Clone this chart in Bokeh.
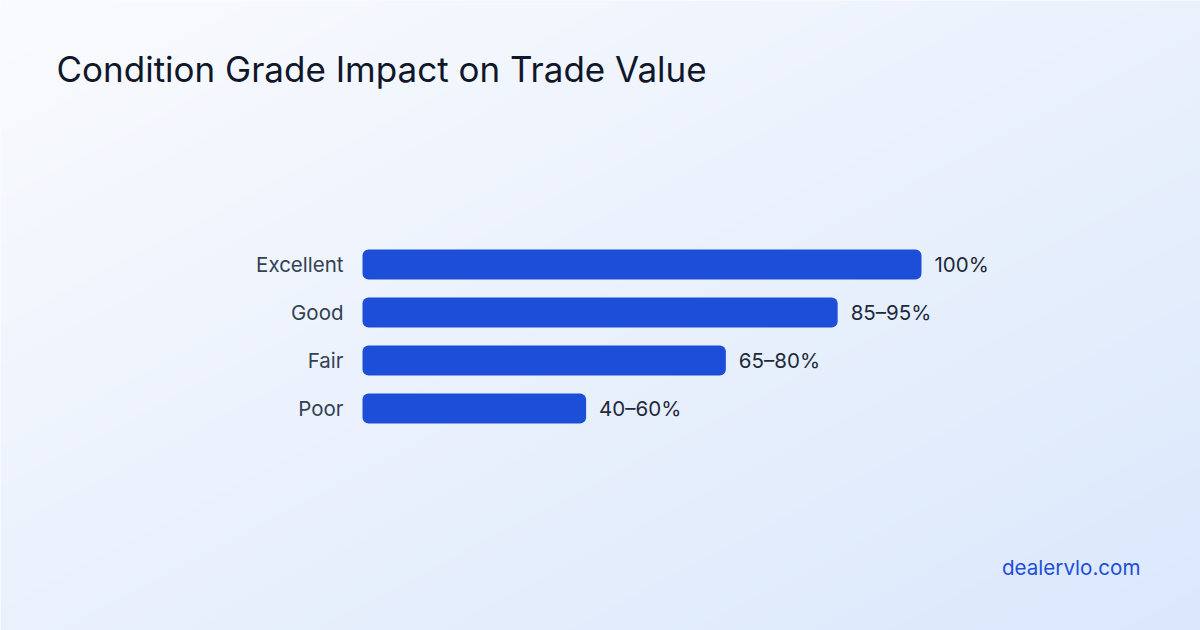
import numpy as np
from bokeh.core.properties import value
from bokeh.embed import file_html
from bokeh.models import ColumnDataSource, Label, Range1d
from bokeh.plotting import figure
from bokeh.resources import INLINE

# data
grades = ["Excellent", "Good", "Fair", "Poor"]
low_pct = [100, 85, 65, 40]          # bar length = bottom of the range
range_labels = ["100%", "85\u201395%", "65\u201380%", "40\u201360%"]

W, H = 1200, 630
PX_PER_PCT = 5.59
X0 = 362                                # pixel where 0% sits
ROW = 48                                # pixel pitch between bars

x_start = -X0 / PX_PER_PCT
x_end = x_start + W / PX_PER_PCT
y_start = -222 / ROW
y_end = y_start + H / ROW

ypos = [len(grades) - 1 - i for i in range(len(grades))]
src = ColumnDataSource(dict(
    grade=grades, low=low_pct, label=range_labels, y=ypos,
    lab_x=[v + 13 / PX_PER_PCT for v in low_pct],
    cat_x=[-19 / PX_PER_PCT] * len(grades),
))

p = figure(width=W, height=H, output_backend="svg", toolbar_location=None,
           x_range=Range1d(x_start, x_end), y_range=Range1d(y_start, y_end),
           min_border=0, tools="")
p.axis.visible = False
p.grid.visible = False
p.outline_line_color = None
p.background_fill_color = "#f8fafc"
p.border_fill_color = "#f8fafc"

# diagonal background gradient, light top-left to pale blue bottom-right
gw, gh = 600, 315
cols = np.linspace(0, 1, gw)[None, :]
rows = np.linspace(0, 1, gh)[:, None]
t = (cols + (1 - rows)) / 2
c0 = np.array([250, 251, 254])
c1 = np.array([219, 232, 252])
rgb = c0[None, None, :] + (c1 - c0)[None, None, :] * t[:, :, None]
img = np.empty((gh, gw), dtype=np.uint32)
view = img.view(dtype=np.uint8).reshape((gh, gw, 4))
view[:, :, 0] = rgb[:, :, 0]
view[:, :, 1] = rgb[:, :, 1]
view[:, :, 2] = rgb[:, :, 2]
view[:, :, 3] = 255
p.image_rgba(image=[img], x=x_start, y=y_start, dw=x_end - x_start, dh=y_end - y_start)

p.hbar(y="y", left=0, right="low", height=30 / ROW, source=src,
       fill_color="#1d4ed8", line_color=None, border_radius=6)

p.text(x="cat_x", y="y", text="grade", source=src, text_align="right",
       text_baseline="middle", text_font=value("Inter"), text_font_size="20.5px",
       text_color="#334155")
p.text(x="lab_x", y="y", text="label", source=src, text_align="left",
       text_baseline="middle", text_font=value("Inter"), text_font_size="20.5px",
       text_color="#1e293b")

p.add_layout(Label(x=56, y=H - 68, x_units="screen", y_units="screen",
                   text="Condition Grade Impact on Trade Value",
                   text_font="Inter", text_font_size="35px", text_color="#0f172a",
                   text_baseline="alphabetic"))
p.add_layout(Label(x=1140, y=H - 567, x_units="screen", y_units="screen",
                   text="dealervlo.com", text_align="right",
                   text_font="Inter", text_font_size="20.6px", text_color="#1d4ed8",
                   text_baseline="alphabetic"))

open("out.html", "w").write(file_html(p, INLINE))
